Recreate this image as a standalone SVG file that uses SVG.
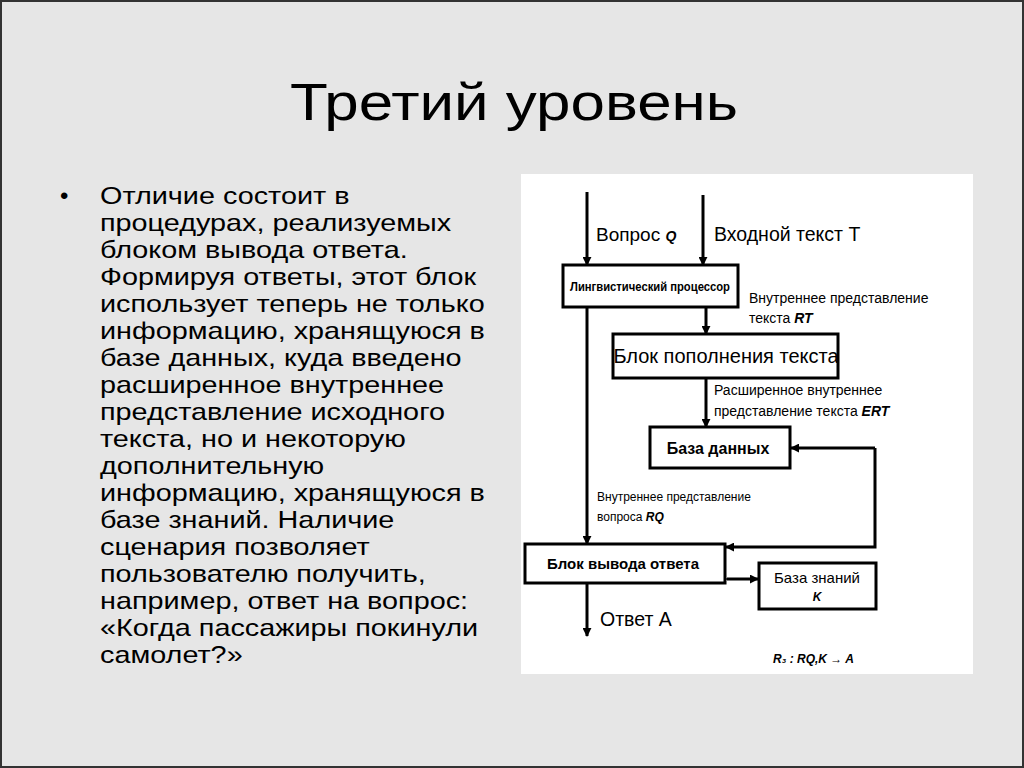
<svg xmlns="http://www.w3.org/2000/svg" width="1024" height="768" viewBox="0 0 1024 768">
<style>
text{font-family:"Liberation Sans",Arial,sans-serif;fill:#000}
.b{fill:#fff;stroke:#000;stroke-width:3}
.l{stroke:#000;stroke-width:3;fill:none}
.t{font-size:14px}
</style>
<defs>
<marker id="a" viewBox="0 0 10 10" refX="9" refY="5" markerWidth="3" markerHeight="3" orient="auto"><path d="M0,0L10,5L0,10z" fill="#000"/></marker>
</defs>
<rect width="1024" height="768" fill="#e6e6e6"/>
<rect x="1" y="1" width="1022" height="766" fill="none" stroke="#333" stroke-width="2"/>
<text x="290" y="120" font-size="52" textLength="448" lengthAdjust="spacingAndGlyphs">Третий уровень</text>
<text font-size="24"><tspan x="60" y="204">•</tspan></text>
<text font-size="24" transform="translate(100,0) scale(1.2,1) translate(-100,0)">
<tspan x="100" y="204">Отличие состоит в</tspan>
<tspan x="100" y="231">процедурах, реализуемых</tspan>
<tspan x="100" y="258">блоком вывода ответа.</tspan>
<tspan x="100" y="285">Формируя ответы, этот блок</tspan>
<tspan x="100" y="312">использует теперь не только</tspan>
<tspan x="100" y="339">информацию, хранящуюся в</tspan>
<tspan x="100" y="366">базе данных, куда введено</tspan>
<tspan x="100" y="393">расширенное внутреннее</tspan>
<tspan x="100" y="420">представление исходного</tspan>
<tspan x="100" y="447">текста, но и некоторую</tspan>
<tspan x="100" y="474">дополнительную</tspan>
<tspan x="100" y="501">информацию, хранящуюся в</tspan>
<tspan x="100" y="528">базе знаний. Наличие</tspan>
<tspan x="100" y="555">сценария позволяет</tspan>
<tspan x="100" y="582">пользователю получить,</tspan>
<tspan x="100" y="609">например, ответ на вопрос:</tspan>
<tspan x="100" y="636">«Когда пассажиры покинули</tspan>
<tspan x="100" y="663">самолет?»</tspan>
</text>
<rect x="521" y="174" width="452" height="500" fill="#fff"/>
<g id="connectors">
<line class="l" x1="587" y1="192" x2="587" y2="265" marker-end="url(#a)"/>
<line class="l" x1="703" y1="195" x2="703" y2="265" marker-end="url(#a)"/>
<line class="l" x1="706" y1="307" x2="706" y2="334" marker-end="url(#a)"/>
<line class="l" x1="706" y1="378" x2="706" y2="427" marker-end="url(#a)"/>
<line class="l" x1="587" y1="307" x2="587" y2="544" marker-end="url(#a)"/>
<line class="l" x1="587" y1="583" x2="587" y2="636" marker-end="url(#a)"/>
<polyline class="l" points="875,448 875,547 726,547" marker-end="url(#a)"/>
<line class="l" x1="875" y1="448" x2="791" y2="448" marker-end="url(#a)"/>
<line class="l" x1="727" y1="579" x2="758" y2="579" marker-start="url(#a)" marker-end="url(#a)"/>
</g>
<g id="n1"><rect class="b" x="563" y="265" width="175" height="42"/><text x="650" y="291" font-size="12" text-anchor="middle" font-weight="bold" textLength="160" lengthAdjust="spacingAndGlyphs">Лингвистический процессор</text></g>
<g id="n2"><rect class="b" x="613" y="334" width="225" height="44"/><text x="726" y="363" font-size="20" text-anchor="middle">Блок пополнения текста</text></g>
<g id="n3"><rect class="b" x="650" y="427" width="140" height="41"/><text x="718" y="454" font-size="16" text-anchor="middle" font-weight="bold">База данных</text></g>
<g id="n4"><rect class="b" x="525" y="544" width="200" height="39"/><text x="623" y="569" font-size="15" text-anchor="middle" font-weight="bold">Блок вывода ответа</text></g>
<g id="n5"><rect class="b" x="759" y="563" width="117" height="46"/><text x="817" y="583" font-size="15" text-anchor="middle">База знаний</text><text x="817" y="601" font-size="12" text-anchor="middle" font-style="italic" font-weight="bold">K</text></g>
<text x="596" y="241" font-size="19">Вопрос <tspan font-style="italic" font-weight="bold" font-size="14">Q</tspan></text>
<text x="714" y="241" font-size="19.5">Входной текст T</text>
<text x="749" y="303" class="t">Внутреннее представление</text>
<text x="749" y="323" class="t">текста <tspan font-style="italic" font-weight="bold">RT</tspan></text>
<text x="714" y="395" class="t">Расширенное внутреннее</text>
<text x="714" y="416" class="t">представление текста <tspan font-style="italic" font-weight="bold">ERT</tspan></text>
<text x="597" y="501" font-size="12">Внутреннее представление</text>
<text x="597" y="521" font-size="12">вопроса <tspan font-style="italic" font-weight="bold">RQ</tspan></text>
<text x="600" y="626" font-size="19.5">Ответ А</text>
<text x="773" y="663" font-size="12" font-style="italic" font-weight="bold">R₃ : RQ,K → A</text>
</svg>
